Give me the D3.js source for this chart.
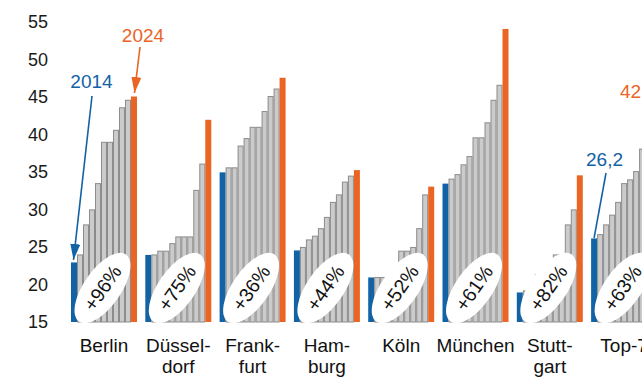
<!DOCTYPE html>
<html><head><meta charset="utf-8">
<script src="https://cdn.jsdelivr.net/npm/d3@7"></script>
<style>
html,body{margin:0;padding:0;background:#fff;overflow:hidden;}
svg{display:block;font-family:"Liberation Sans",Arial,sans-serif;}
</style></head>
<body>
<svg id="c" width="642" height="378"></svg>
<script>
const categories = ["Berlin","Düsseldorf","Frankfurt","Hamburg","Köln","München","Stuttgart","Top-7"];
const labelLines = [["Berlin"],["Düssel-","dorf"],["Frank-","furt"],["Ham-","burg"],["Köln"],["München"],["Stutt-","gart"],["Top-7"]];
const years = [2014,2015,2016,2017,2018,2019,2020,2021,2022,2023,2024];
const berlin     = [23.0,24.0,28.0,30.0,33.5,39.0,39.0,40.6,43.6,44.6,45.1];
const duesseldorf= [24.0,24.0,24.5,24.5,25.5,26.4,26.4,26.4,32.6,36.1,42.0];
const frankfurt  = [35.0,35.6,35.6,38.5,39.5,41.0,41.0,43.1,45.1,46.1,47.6];
const hamburg    = [24.6,25.0,26.0,26.5,27.5,29.0,31.0,32.0,33.7,34.5,35.3];
const koeln      = [21.0,21.0,21.0,21.0,22.0,24.5,24.5,25.0,27.5,32.0,33.1];
const muenchen   = [33.5,34.1,34.7,36.0,37.1,39.6,39.6,41.6,44.6,46.6,54.1];
const stuttgart  = [19.0,19.2,19.7,21.4,22.0,23.0,24.0,24.0,28.0,30.0,34.6];
const top7       = [26.2,26.7,28.0,29.3,31.0,33.5,34.0,35.1,38.1,40.4,42.7];
const changes = ["+96%","+75%","+36%","+44%","+52%","+61%","+82%","+63%"];
const yTicks = [15,20,25,30,35,40,45,50,55];

const series = [berlin,duesseldorf,frankfurt,hamburg,koeln,muenchen,stuttgart,top7];
const BLUE="#1262a6", ORANGE="#ea6424", GREY="#cbcbcb", GSTROKE="#8c8c8c";

const svg = d3.select("#c");
const y = d3.scaleLinear().domain([15,55]).range([322,21.7]);
const x0 = d3.scaleBand().domain(categories).range([71,657.1]).paddingInner(0.112).paddingOuter(0);
const x1 = d3.scaleBand().domain(years).range([0,x0.bandwidth()]).padding(0);

const yAxis = d3.axisLeft(y).tickValues(yTicks).tickSize(0).tickPadding(0);
const ga = svg.append("g").attr("transform","translate(48,0)").call(yAxis);
ga.select(".domain").remove();
ga.selectAll("text").attr("font-size",18).attr("fill","#1a1a1a").attr("font-family","Liberation Sans, Arial, sans-serif");

const groups = svg.selectAll("g.grp").data(categories).join("g").attr("class","grp")
  .attr("transform",d=>`translate(${x0(d)},0)`);
groups.each(function(cat,i){
  const g = d3.select(this);
  const vals = series[i];
  g.selectAll("rect").data(vals).join("rect")
    .attr("x",(v,j)=>x1(years[j]) + (j>0 && j<10 ? 0.5 : 0))
    .attr("y",v=>y(v) + 0.5)
    .attr("width",(v,j)=> j>0 && j<10 ? x1.bandwidth()-1 : x1.bandwidth())
    .attr("height",v=>y(15)-y(v)-0.5)
    .attr("fill",(v,j)=> j===0?BLUE : j===10?ORANGE : GREY)
    .attr("stroke",(v,j)=> j===0||j===10 ? "none" : GSTROKE)
    .attr("stroke-width",1);
  const cx = x0.bandwidth()/2 - 1.5, cy = 288;
  const e = g.append("g").attr("transform",`translate(${cx},${cy}) rotate(-55)`);
  e.append("ellipse").attr("rx",41).attr("ry",18.5).attr("fill","#fff");
  e.append("text").attr("text-anchor","middle").attr("dy","0.35em")
    .attr("font-size",19.5).attr("fill","#111").text(changes[i]);
});

const lab = svg.selectAll("text.cat").data(categories).join("text").attr("class","cat")
  .attr("x",d=>x0(d)+x0.bandwidth()/2).attr("y",352)
  .attr("text-anchor","middle").attr("font-size",19).attr("fill","#111");
lab.each(function(d,i){
  const t = d3.select(this);
  labelLines[i].forEach((l,k)=>{
    t.append("tspan").attr("x",x0(d)+x0.bandwidth()/2).attr("dy",k===0?0:21).text(l);
  });
});

const defs = svg.append("defs");
[["arrB",BLUE],["arrO",ORANGE]].forEach(([id,c])=>{
  defs.append("marker").attr("id",id).attr("viewBox","0 0 16 10").attr("refX",16).attr("refY",5)
    .attr("markerWidth",16).attr("markerHeight",10).attr("markerUnits","userSpaceOnUse").attr("orient","auto")
    .append("path").attr("d","M0,0 L16,5 L0,10 Z").attr("fill",c);
});

const barCx = (cat,j)=> x0(cat)+x1(years[j])+x1.bandwidth()/2;
svg.append("text").attr("x",91.5).attr("y",88).attr("text-anchor","middle").attr("font-size",19).attr("fill",BLUE).text("2014");
svg.append("line").attr("x1",92).attr("y1",96).attr("x2",barCx("Berlin",0)-0.5).attr("y2",y(berlin[0])-2)
  .attr("stroke",BLUE).attr("stroke-width",1.6).attr("marker-end","url(#arrB)");
svg.append("text").attr("x",143).attr("y",42).attr("text-anchor","middle").attr("font-size",19).attr("fill",ORANGE).text("2024");
svg.append("line").attr("x1",140).attr("y1",47).attr("x2",barCx("Berlin",10)+0.5).attr("y2",y(berlin[10])-3)
  .attr("stroke",ORANGE).attr("stroke-width",1.6).attr("marker-end","url(#arrO)");
svg.append("text").attr("x",604.5).attr("y",166).attr("text-anchor","middle").attr("font-size",19).attr("fill",BLUE).text("26,2");
svg.append("line").attr("x1",606).attr("y1",173).attr("x2",barCx("Top-7",0)).attr("y2",y(top7[0]))
  .attr("stroke",BLUE).attr("stroke-width",1.6);
svg.append("text").attr("x",620).attr("y",98).attr("text-anchor","start").attr("font-size",19).attr("fill",ORANGE).text("42,7");
</script>
</body></html>
